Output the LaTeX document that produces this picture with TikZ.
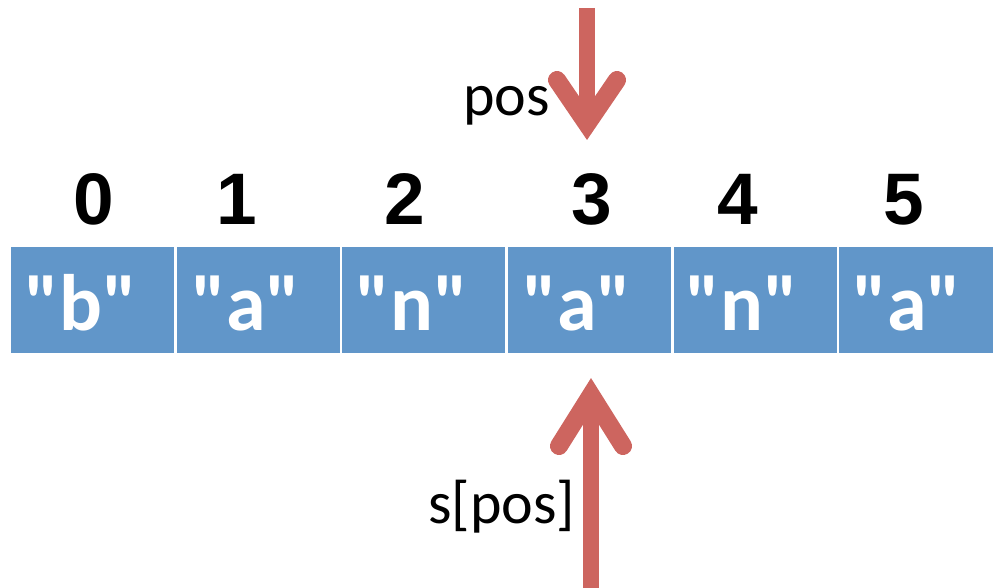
\documentclass[tikz,border=0pt]{standalone}
\usepackage{fontspec}
\setmainfont{Carlito}[Ligatures=TeXOff]
\newfontfamily\numfont{Liberation Sans}
\definecolor{cellblue}{RGB}{97,150,201}
\definecolor{arrred}{RGB}{205,101,95}
\newcommand{\qq}[1]{"#1"}
\begin{document}
\begin{tikzpicture}[x=1pt,y=-1pt,
  cellbox/.style={fill=cellblue,draw=none,minimum width=163pt,minimum height=106pt,inner sep=0pt,anchor=north west},
  celltext/.style={text=white,font=\fontsize{80}{88}\selectfont\bfseries,anchor=base,inner sep=0pt},
  idx/.style={font=\fontsize{73}{80}\selectfont\numfont\bfseries,anchor=base,inner sep=0pt},
  lbl/.style={font=\fontsize{60}{70}\selectfont,anchor=base west,inner sep=0pt},
  shaft/.style={draw=arrred,line width=16pt,line cap=butt},
  chev/.style={draw=arrred,line width=18pt,line cap=round,line join=miter,miter limit=10}]
\useasboundingbox (0,0) rectangle (993,588);
\clip (0,0) rectangle (993,588);
\foreach \i/\t/\c in {0/b/81,1/a/246,2/n/412,3/a/577,4/n/742,5/a/907}{
  \node[cellbox] (c\i) at ({10.7+165.65*\i},247) {};
  \node[celltext] (t\i) at (\c,330) {\qq{\t}};
}
\foreach \i/\x in {0/94,1/237,2/405,3/592,4/738,5/904}{
  \node[idx] (n\i) at (\x,225) {\i};
}
\node[lbl] (pos) at (463,116) {pos};
\node[lbl] (spos) at (428,523) {s[pos]};
% top arrow
\coordinate (ta) at (587,8);
\coordinate (tt) at (587,124);
\coordinate (tl) at (557,80);
\coordinate (tr) at (617,80);
\draw[shaft] (ta) -- (tt);
\draw[chev] (tl) -- (tt) -- (tr);
% bottom arrow
\coordinate (ba) at (591,600);
\coordinate (bt) at (591,395);
\coordinate (bl) at (559,446);
\coordinate (br) at (623,446);
\draw[shaft] (ba) -- (bt);
\draw[chev] (bl) -- (bt) -- (br);
\end{tikzpicture}
\end{document}
